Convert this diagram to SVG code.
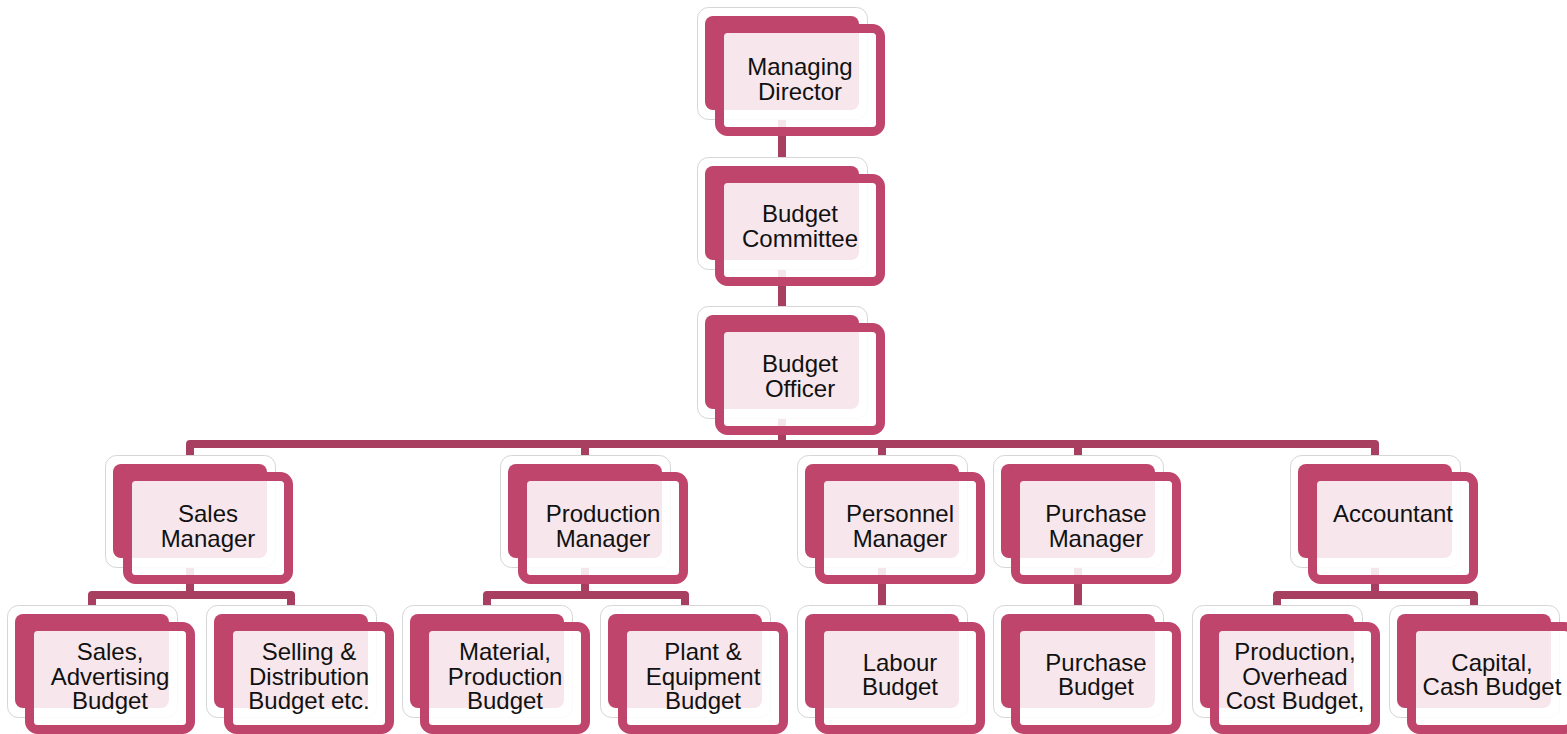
<svg xmlns="http://www.w3.org/2000/svg" xmlns:xlink="http://www.w3.org/1999/xlink" width="1567" height="734" viewBox="0 0 1567 734">
<style>
.back{fill:#ffffff;stroke:#d6d6d6;stroke-width:1}
.mid{fill:#BF456C}
.front{fill:#ffffff;fill-opacity:0.87;stroke:#BF456C;stroke-width:9}
.lbl{font-family:"Liberation Sans",Arial,sans-serif;font-size:24px;fill:#111111;text-anchor:middle}
.conn{fill:none;stroke:#A83E60;stroke-width:8;stroke-linejoin:round}
</style>
<defs>
<g id="box">
<rect class="back" x="0.5" y="0.5" width="170" height="112" rx="11"/>
<rect class="mid" x="8" y="9" width="154" height="94" rx="8"/>
<rect class="front" x="22.5" y="21.5" width="161" height="103" rx="8"/>
</g>
</defs>
<rect width="1567" height="734" fill="#ffffff"/>
<g id="connectors">
<path class="conn" d="M782,60 V170"/>
<path class="conn" d="M782,210 V320"/>
<path class="conn" d="M782,360 V444"/>
<path class="conn" d="M190,470 V444 H1375 V470"/>
<path class="conn" d="M585,444 V470"/>
<path class="conn" d="M882,444 V470"/>
<path class="conn" d="M1078,444 V470"/>
<path class="conn" d="M190,500 V595"/>
<path class="conn" d="M92,620 V595 H291 V620"/>
<path class="conn" d="M585,500 V595"/>
<path class="conn" d="M487,620 V595 H685 V620"/>
<path class="conn" d="M882,500 V620"/>
<path class="conn" d="M1078,500 V620"/>
<path class="conn" d="M1375,500 V595"/>
<path class="conn" d="M1277,620 V595 H1474 V620"/>
</g>
<g id="node-managing-director" transform="translate(697,7)"><use xlink:href="#box"/><text class="lbl" x="103" y="68">Managing</text><text class="lbl" x="103" y="93">Director</text></g>
<g id="node-budget-committee" transform="translate(697,157)"><use xlink:href="#box"/><text class="lbl" x="103" y="65">Budget</text><text class="lbl" x="103" y="90">Committee</text></g>
<g id="node-budget-officer" transform="translate(697,306)"><use xlink:href="#box"/><text class="lbl" x="103" y="66">Budget</text><text class="lbl" x="103" y="91">Officer</text></g>
<g id="node-sales-manager" transform="translate(105,455)"><use xlink:href="#box"/><text class="lbl" x="103" y="67">Sales</text><text class="lbl" x="103" y="92">Manager</text></g>
<g id="node-production-manager" transform="translate(500,455)"><use xlink:href="#box"/><text class="lbl" x="103" y="67">Production</text><text class="lbl" x="103" y="92">Manager</text></g>
<g id="node-personnel-manager" transform="translate(797,455)"><use xlink:href="#box"/><text class="lbl" x="103" y="67">Personnel</text><text class="lbl" x="103" y="92">Manager</text></g>
<g id="node-purchase-manager" transform="translate(993,455)"><use xlink:href="#box"/><text class="lbl" x="103" y="67">Purchase</text><text class="lbl" x="103" y="92">Manager</text></g>
<g id="node-accountant" transform="translate(1290,455)"><use xlink:href="#box"/><text class="lbl" x="103" y="67">Accountant</text></g>
<g id="node-sales-advertising-budget" transform="translate(7,605)"><use xlink:href="#box"/><text class="lbl" x="103" y="55">Sales,</text><text class="lbl" x="103" y="80">Advertising</text><text class="lbl" x="103" y="104">Budget</text></g>
<g id="node-selling-distribution-budget" transform="translate(206,605)"><use xlink:href="#box"/><text class="lbl" x="103" y="55">Selling &amp;</text><text class="lbl" x="103" y="80">Distribution</text><text class="lbl" x="103" y="104">Budget etc.</text></g>
<g id="node-material-production-budget" transform="translate(402,605)"><use xlink:href="#box"/><text class="lbl" x="103" y="55">Material,</text><text class="lbl" x="103" y="80">Production</text><text class="lbl" x="103" y="104">Budget</text></g>
<g id="node-plant-equipment-budget" transform="translate(600,605)"><use xlink:href="#box"/><text class="lbl" x="103" y="55">Plant &amp;</text><text class="lbl" x="103" y="80">Equipment</text><text class="lbl" x="103" y="104">Budget</text></g>
<g id="node-labour-budget" transform="translate(797,605)"><use xlink:href="#box"/><text class="lbl" x="103" y="66">Labour</text><text class="lbl" x="103" y="90">Budget</text></g>
<g id="node-purchase-budget" transform="translate(993,605)"><use xlink:href="#box"/><text class="lbl" x="103" y="66">Purchase</text><text class="lbl" x="103" y="90">Budget</text></g>
<g id="node-production-overhead-budget" transform="translate(1192,605)"><use xlink:href="#box"/><text class="lbl" x="103" y="55">Production,</text><text class="lbl" x="103" y="80">Overhead</text><text class="lbl" x="103" y="104">Cost Budget,</text></g>
<g id="node-capital-cash-budget" transform="translate(1389,605)"><use xlink:href="#box"/><text class="lbl" x="103" y="66">Capital,</text><text class="lbl" x="103" y="90">Cash Budget</text></g>
</svg>
